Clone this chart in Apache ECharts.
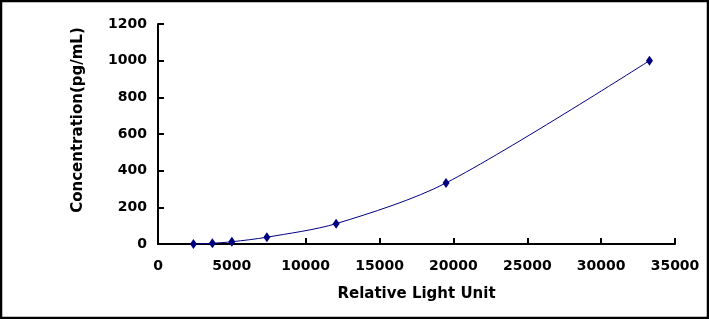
<!DOCTYPE html>
<html>
<head>
<meta charset="utf-8">
<script src="https://cdn.jsdelivr.net/npm/echarts@6/dist/echarts.min.js"></script>
<style>
  html, body { margin: 0; padding: 0; background: #fff; }
  #main { width: 709px; height: 319px; }
</style>
</head>
<body>
<div id="main"></div>
<script>
// standard curve points: RLU vs concentration
var rlu = [2400, 3680, 5000, 7370, 12060, 19500, 33270];
var conc = [0, 4.1, 12.3, 37, 111, 333, 1000];

var xTitle = 'Relative Light Unit';
var yTitle = 'Concentration(pg/mL)';

var chartDom = document.getElementById('main');
var myChart = echarts.init(chartDom);

var points = rlu.map(function (v, i) { return [v, conc[i]]; });

var labelFont = {
    color: '#000',
    fontFamily: 'DejaVu Sans',
    fontWeight: 'bold',
    fontSize: 14,
    formatter: function (v) { return String(v); }
};

var option = {
    animation: false,
    backgroundColor: '#fff',
    grid: {
        left: 158,
        right: 34,
        top: 24,
        bottom: 75
    },
    xAxis: {
        type: 'value',
        min: 0,
        max: 35000,
        interval: 5000,
        name: xTitle,
        nameLocation: 'middle',
        nameGap: 43,
        nameTextStyle: { color: '#000', fontFamily: 'DejaVu Sans', fontWeight: 'bold', fontSize: 15 },
        axisLine: { show: true, lineStyle: { color: '#000', width: 2 } },
        axisTick: { show: true, inside: true, length: 6, lineStyle: { color: '#000', width: 2 } },
        axisLabel: Object.assign({ margin: 15 }, labelFont),
        splitLine: { show: false }
    },
    yAxis: {
        type: 'value',
        min: 0,
        max: 1200,
        interval: 200,
        name: yTitle,
        nameLocation: 'middle',
        nameGap: 72,
        nameTextStyle: { color: '#000', fontFamily: 'DejaVu Sans', fontWeight: 'bold', fontSize: 15, padding: [0, 0, 0, 28] },
        axisLine: { show: true, lineStyle: { color: '#000', width: 2 } },
        axisTick: { show: true, inside: true, length: 6, lineStyle: { color: '#000', width: 2 } },
        axisLabel: Object.assign({ margin: 11 }, labelFont),
        splitLine: { show: false }
    },
    graphic: [
        {
            type: 'rect',
            shape: { x: 1, y: 1, width: 707, height: 317 },
            style: { fill: 'none', stroke: '#000', lineWidth: 2.5 },
            silent: true
        }
    ],
    series: [
        {
            type: 'line',
            data: points,
            smooth: 0.3,
            symbol: 'diamond',
            symbolSize: [7, 10],
            itemStyle: { color: '#000080' },
            lineStyle: { color: '#000080', width: 1 }
        }
    ]
};

option && myChart.setOption(option);
</script>
</body>
</html>
